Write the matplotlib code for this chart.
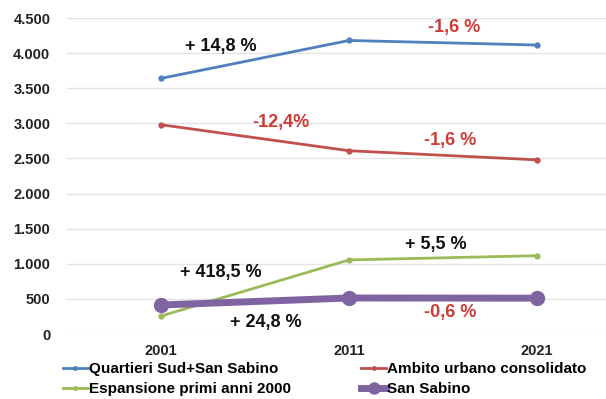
import matplotlib
matplotlib.use('Agg')
from matplotlib import pyplot as plt
from matplotlib.lines import Line2D

# Data
years = ['2001', '2011', '2021']
quartieri_sud = [3640, 4180, 4115]
ambito_urbano = [2980, 2610, 2480]
espansione = [256, 1055, 1115]
san_sabino = [413, 513, 510]

# Percent-change labels: (text, x, y, colour key)
labels_text = ['+ 14,8 %', '-1,6 %', '-12,4%', '-1,6 %', '+ 418,5 %', '+ 5,5 %', '+ 24,8 %', '-0,6 %']
labels_x = [0.32, 1.56, 0.64, 1.54, 0.32, 1.46, 0.56, 1.54]
labels_y = [4090, 4370, 3010, 2760, 880, 1270, 160, 310]
labels_red = [False, True, True, True, False, False, False, True]

plt.rcParams['font.family'] = ['Liberation Sans', 'DejaVu Sans']

fig = plt.figure(figsize=(6.06, 3.99), dpi=100)
ax = fig.add_axes([67 / 606, 65 / 399, 564 / 606, 316 / 399])

x = range(len(years))
ax.plot(x, quartieri_sud, color='#4f81bd', lw=2, marker='o', ms=3.5, label='Quartieri Sud+San Sabino')
ax.plot(x, ambito_urbano, color='#c0504d', lw=2, marker='o', ms=3.5, label='Ambito urbano consolidato')
ax.plot(x, espansione, color='#9bbb59', lw=2, marker='o', ms=3.5, label='Espansione primi anni 2000')
ax.plot(x, san_sabino, color='#8064a2', lw=5, marker='o', ms=10, label='San Sabino')

for t, lx, ly, red in zip(labels_text, labels_x, labels_y, labels_red):
    ax.text(lx, ly, t, ha='center', va='center', fontsize=13, fontweight='bold',
            color='#d03a36' if red else '#111111')

ax.set_xlim(-0.5, 2.5)
ax.set_ylim(0, 4500)
ax.set_yticks(range(0, 4501, 500))
ax.set_yticklabels([f'{v:,}'.replace(',', '.') for v in range(0, 4501, 500)])
ax.set_xticks(list(x))
ax.set_xticklabels(years)
ax.tick_params(length=0, labelsize=10.5, colors='#222222')
for lab in ax.get_xticklabels() + ax.get_yticklabels():
    lab.set_fontweight('bold')
ax.tick_params(axis='y', pad=12)
ax.tick_params(axis='x', pad=7)
ax.grid(axis='y', color='#e4e4e4', lw=1)
for s in ax.spines.values():
    s.set_visible(False)

# legend handles: thin lines with small markers, thick purple line with big marker
handles = [
    Line2D([], [], color='#4f81bd', lw=2, marker='o', ms=2.5),
    Line2D([], [], color='#9bbb59', lw=2, marker='o', ms=2.5),
    Line2D([], [], color='#c0504d', lw=2, marker='o', ms=2.5),
    Line2D([], [], color='#8064a2', lw=5, marker='o', ms=8),
]
names = ['Quartieri Sud+San Sabino', 'Espansione primi anni 2000',
         'Ambito urbano consolidato', 'San Sabino']
fig.legend(handles, names,
           loc='lower left', bbox_to_anchor=(57 / 606, -0.008), ncol=2,
           frameon=False, prop={'size': 11, 'weight': 'bold'},
           handlelength=1.6, handletextpad=0.1, columnspacing=4.6,
           labelspacing=0.4, borderaxespad=0)

fig.savefig('out.png', dpi=100)
